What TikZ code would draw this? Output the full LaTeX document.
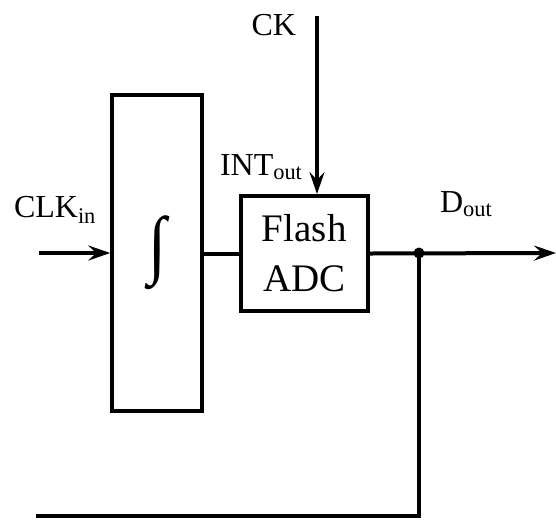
\documentclass[tikz,border=0pt]{standalone}
\usepackage{amsmath}
\usepackage{fontspec}
\setmainfont{Liberation Serif}
\usetikzlibrary{arrows.meta,positioning}

\begin{document}
\begin{tikzpicture}[x=1pt,y=-1pt,line width=4pt,
  block/.style={draw,line width=4pt,inner sep=0pt},
  sig/.style={-{Stealth[length=22pt,width=15pt,inset=8pt]}},
  lbl/.style={font=\fontsize{32}{38}\selectfont,inner sep=0pt}]
\useasboundingbox (0,0) rectangle (556,520);
% Blocks
\node[block,minimum width=89.5pt,minimum height=316.5pt] (int) at (157,252.75)
  {\resizebox*{18pt}{74pt}{\fontsize{60}{70}\selectfont ∫}};
\node[block,minimum width=127.5pt,minimum height=115pt,align=center,
  font=\fontsize{39}{50}\selectfont] (adc) at (304.25,253.5) {Flash\\ADC};
% Free ends of the signals
\coordinate (clkin) at (39,253);
\coordinate (ck) at (317,16);
\coordinate (dout) at (556,253);
\coordinate (j) at (419,253);
\coordinate (fb) at (36,516);
% Signals
\draw[sig] (clkin) -- (clkin -| int.west);
\draw (int.east |- adc.west) -- (adc.west);
\draw[sig] (ck) -- (ck |- adc.north);
\draw[sig] (adc.east) -- (dout);
\draw (j) |- (fb);
\fill (j) circle (5.5pt);
% Labels
\node[lbl,anchor=base east] (cklbl) at (298,35) {CK};
\node[lbl,anchor=base west] (intlbl) at (218,175) {INT\textsubscript{out}};
\node[lbl,anchor=base west] (clklbl) at (12,217) {CLK\textsubscript{in}};
\node[lbl,anchor=base west] (doutlbl) at (438,212) {D\textsubscript{out}};
\end{tikzpicture}
\end{document}
